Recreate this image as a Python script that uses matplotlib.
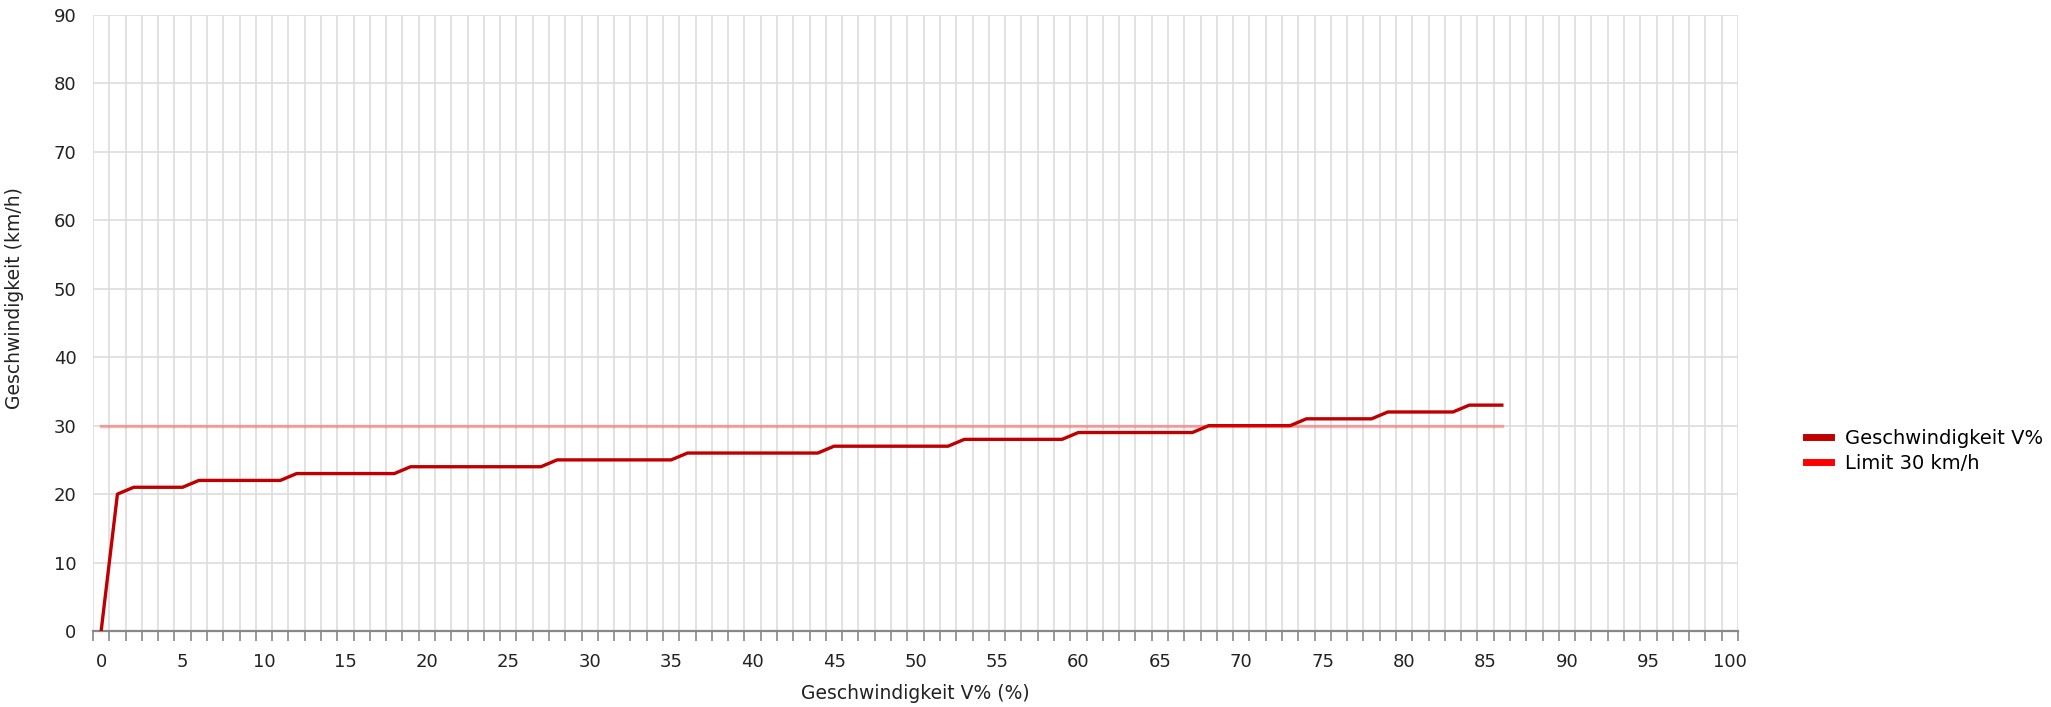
import matplotlib
matplotlib.use("Agg")
import matplotlib.pyplot as plt
from matplotlib.ticker import MultipleLocator, FixedLocator
import numpy as np

# Percentile (V%) and the speed reached at that percentile
percentiles = list(range(0, 87))
speeds = [
    0, 20, 21, 21, 21, 21, 22, 22, 22, 22,
    22, 22, 23, 23, 23, 23, 23, 23, 23, 24,
    24, 24, 24, 24, 24, 24, 24, 24, 25, 25,
    25, 25, 25, 25, 25, 25, 26, 26, 26, 26,
    26, 26, 26, 26, 26, 27, 27, 27, 27, 27,
    27, 27, 27, 28, 28, 28, 28, 28, 28, 28,
    29, 29, 29, 29, 29, 29, 29, 29, 30, 30,
    30, 30, 30, 30, 31, 31, 31, 31, 31, 32,
    32, 32, 32, 32, 33, 33, 33,
]
limit_kmh = 30
limit = [limit_kmh] * len(percentiles)

x_ticks = list(range(0, 101, 5))
y_ticks = list(range(0, 91, 10))

W, H = 2051, 707
fig = plt.figure(figsize=(W / 100, H / 100), dpi=100)
ax = fig.add_axes([93 / W, (H - 631) / H, (1738 - 93) / W, (631 - 15) / H])

ax.plot(percentiles, speeds, color="#c00000", lw=2.4, label="Geschwindigkeit V%", zorder=3)
ax.plot(percentiles, limit, color="#ff0000", lw=2.4, alpha=0.3, label="Limit 30 km/h", zorder=4)

ax.set_xlim(-0.5, 100.5)
ax.set_ylim(0, 90)

ax.xaxis.set_major_locator(FixedLocator(x_ticks))
ax.xaxis.set_minor_locator(FixedLocator(np.arange(-0.5, 101, 1)))
ax.yaxis.set_major_locator(FixedLocator(y_ticks))

ax.tick_params(axis="x", which="major", length=0, labelsize=13, pad=16, colors="#222222")
ax.tick_params(axis="x", which="minor", length=7, width=1.2, color="#888888")
ax.tick_params(axis="y", which="major", length=0, labelsize=13, pad=12, colors="#222222")

ax.grid(True, which="minor", axis="x", color="#dddddd", lw=1.2)
ax.grid(True, which="major", axis="y", color="#dddddd", lw=1.2)
ax.set_axisbelow(True)

for s in ["top", "right", "left"]:
    ax.spines[s].set_visible(False)
ax.spines["bottom"].set_color("#888888")
ax.spines["bottom"].set_linewidth(1.6)

ax.set_xlabel("Geschwindigkeit V% (%)", fontsize=13.5, color="#222222", labelpad=9)
ax.set_ylabel("Geschwindigkeit (km/h)", fontsize=13.5, color="#222222", labelpad=12)
ax.yaxis.set_label_coords(-0.042, 0.54)

leg = fig.legend(loc="center right", bbox_to_anchor=(2043 / W, (H - 451) / H), frameon=False,
                 fontsize=14, handlelength=1.3, handletextpad=0.7, labelspacing=0.3,
                 borderaxespad=0, borderpad=0)
for h in leg.get_lines():
    h.set_linewidth(5)
    h.set_alpha(1)

fig.savefig("out.png", dpi=100)
